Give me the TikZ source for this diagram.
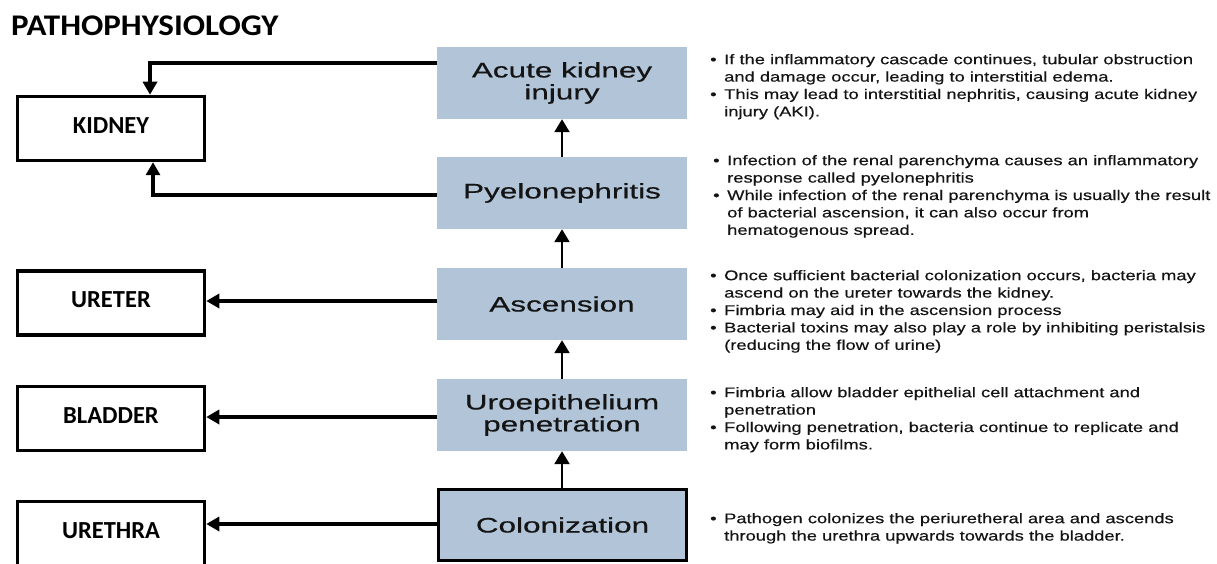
\documentclass[tikz,border=0pt]{standalone}
\usepackage{fontspec}
\usetikzlibrary{arrows.meta}
\newfontfamily\lblfont{Carlito}
\newfontfamily\titlefont[FakeStretch=1.1]{Carlito}
\newfontfamily\boxfont[FakeStretch=1.5,FakeBold=0.4]{Liberation Sans}
\newfontfamily\notefont[FakeStretch=1.31,FakeBold=0.4]{Liberation Sans}
\definecolor{stepblue}{RGB}{177,196,216}
\definecolor{txtdark}{RGB}{20,20,20}
\newcommand{\fl}{\rule{0pt}{11pt}}
\newcommand{\bu}{\makebox[14pt][l]{•}}
\newcommand{\ind}{\makebox[14pt]{}}
\tikzset{
  organ/.style={draw=black, line width=3.5pt, minimum width=187pt, minimum height=64pt,
    inner sep=0pt, text depth=6.5pt, font=\lblfont\bfseries\fontsize{24.5}{26}\selectfont},
  stage/.style={fill=stepblue, minimum width=250pt, minimum height=72pt, inner sep=0pt,
    align=center, text=txtdark, font=\boxfont\fontsize{21}{22}\selectfont},
  note/.style={anchor=north west, inner sep=0pt, align=left, text=txtdark,
    font=\notefont\fontsize{14}{17.4}\selectfont},
  upar/.style={line width=2.3pt, -{Triangle[width=15pt,length=13pt]}},
  sidear/.style={line width=3.5pt, -{Triangle[width=14pt,length=13pt]}}
}
\begin{document}
\begin{tikzpicture}[x=1pt,y=-1pt]
\useasboundingbox (0,0) rectangle (1217,564);
\fill[white] (0,0) rectangle (1217,564);

\node[anchor=base west, inner sep=0pt, font=\titlefont\bfseries\fontsize{30}{32}\selectfont] (title) at (11,36) {PATHOPHYSIOLOGY};

% organ boxes
\node[organ] (kidney) at (111,128.5) {KIDNEY};
\node[organ] (ureter) at (111,303) {URETER};
\node[organ] (bladder) at (111,418.5) {BLADDER};
\node[organ] (urethra) at (111,533.5) {URETHRA};

% stage boxes
\node[stage] (aki) at (562,83) {Acute kidney\\injury};
\node[stage] (pyelo) at (562,193) {Pyelonephritis};
\node[stage] (asc) at (562,304) {Ascension};
\node[stage] (uro) at (562,415) {Uroepithelium\\penetration};
\node[stage, draw=black, line width=3.5pt, minimum width=248pt, minimum height=71pt] (col) at (562.5,525) {Colonization};

% upward arrows
\draw[upar] (col.north -| uro.south) -- (uro.south);
\draw[upar] (uro.north) -- (asc.south);
\draw[upar] (asc.north) -- (pyelo.south);
\draw[upar] (pyelo.north) -- (aki.south);

% side connectors
\draw[sidear] ([yshift=20pt]aki.west) -| ([xshift=39pt]kidney.north);
\draw[sidear] ([yshift=-2pt]pyelo.west) -| ([xshift=42pt]kidney.south);
\draw[sidear] ([yshift=3pt]asc.west) -- ([yshift=3pt]asc.west -| ureter.east);
\draw[sidear] ([yshift=-2pt]uro.west) -- ([yshift=-2pt]uro.west -| bladder.east);
\draw[sidear] ([yshift=1pt]col.west) -- ([yshift=1pt]col.west -| urethra.east);

% notes
\node[note] (n1) at (710,53) {\fl\bu If the inflammatory cascade continues, tubular obstruction\\
\ind and damage occur, leading to interstitial edema.\\
\bu This may lead to interstitial nephritis, causing acute kidney\\
\ind injury (AKI).};
\node[note] (n2) at (713,154) {\fl\bu Infection of the renal parenchyma causes an inflammatory\\
\ind response called pyelonephritis\\
\bu While infection of the renal parenchyma is usually the result\\
\ind of bacterial ascension, it can also occur from\\
\ind hematogenous spread.};
\node[note] (n3) at (710,269) {\fl\bu Once sufficient bacterial colonization occurs, bacteria may\\
\ind ascend on the ureter towards the kidney.\\
\bu Fimbria may aid in the ascension process\\
\bu Bacterial toxins may also play a role by inhibiting peristalsis\\
\ind (reducing the flow of urine)};
\node[note] (n4) at (710,386) {\fl\bu Fimbria allow bladder epithelial cell attachment and\\
\ind penetration\\
\bu Following penetration, bacteria continue to replicate and\\
\ind may form biofilms.};
\node[note] (n5) at (710,512) {\fl\bu Pathogen colonizes the periuretheral area and ascends\\
\ind through the urethra upwards towards the bladder.};
\end{tikzpicture}
\end{document}
